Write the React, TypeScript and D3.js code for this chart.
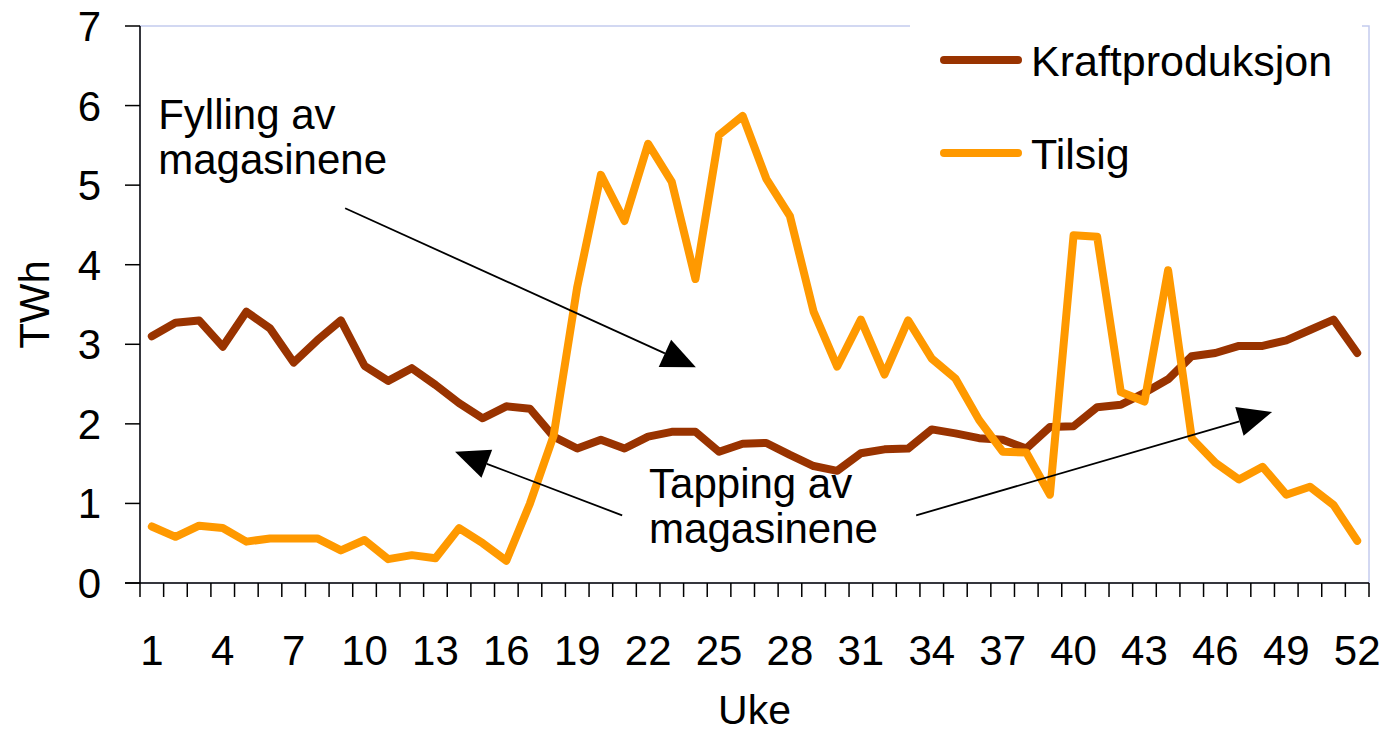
import React, { useEffect, useRef } from "react";
import * as d3 from "d3";

// Uke 1..52
const weeks: number[] = d3.range(1, 53);

// TWh per uke
const kraftproduksjon: number[] = [
  3.1, 3.27, 3.3, 2.97, 3.41, 3.2, 2.77, 3.05, 3.3, 2.73,
  2.54, 2.7, 2.49, 2.26, 2.07, 2.22, 2.19, 1.84, 1.69, 1.8,
  1.69, 1.84, 1.9, 1.9, 1.65, 1.75, 1.76, 1.61, 1.47, 1.41,
  1.63, 1.68, 1.69, 1.93, 1.88, 1.82, 1.8, 1.69, 1.96, 1.97,
  2.21, 2.24, 2.39, 2.56, 2.85, 2.89, 2.98, 2.98, 3.05, 3.18,
  3.31, 2.89,
];

const tilsig: number[] = [
  0.71, 0.58, 0.72, 0.69, 0.52, 0.56, 0.56, 0.56, 0.41, 0.54,
  0.3, 0.35, 0.31, 0.69, 0.5, 0.28, 1.0, 1.85, 3.72, 5.13,
  4.55, 5.52, 5.04, 3.82, 5.63, 5.87, 5.08, 4.61, 3.41, 2.72,
  3.31, 2.62, 3.3, 2.82, 2.57, 2.05, 1.65, 1.64, 1.11, 4.37,
  4.35, 2.4, 2.28, 3.93, 1.82, 1.51, 1.3, 1.46, 1.11, 1.21,
  0.98, 0.53,
];

const yTicks: number[] = [0, 1, 2, 3, 4, 5, 6, 7];

const seriesNames = ["Kraftproduksjon", "Tilsig"];
const seriesColors = ["#993300", "#ff9900"];

// annotation arrows in data space: [week, TWh] from -> to
const arrows: [number, number, number, number][] = [
  [9.18, 4.71, 24.02, 2.71],
  [20.9, 0.85, 13.83, 1.65],
  [33.34, 0.85, 48.4, 2.15],
];

// annotation text blocks: [week, TWh baseline of first line, lines]
const notes: [number, number, string[]][] = [
  [1.27, 5.7, ["Fylling av", "magasinene"]],
  [22.04, 1.07, ["Tapping av", "magasinene"]],
];

const W = 1386;
const H = 734;
const FONT = "'Liberation Sans', Arial, sans-serif";

const App: React.FC = () => {
  const ref = useRef<SVGSVGElement | null>(null);

  useEffect(() => {
    if (!ref.current) return;
    const svg = d3.select(ref.current);
    svg.selectAll("*").remove();

    const left = 140;
    const right = 1369;
    const top = 26;
    const bottom = 583;

    const x = d3
      .scaleBand<number>()
      .domain(weeks)
      .range([left, right])
      .padding(0);
    const cx = (w: number) => x(w)! + x.bandwidth() / 2;
    // continuous week position for annotations
    const xw = (w: number) => left + (w - 0.5) * x.bandwidth();
    const y = d3.scaleLinear().domain([0, 7]).range([bottom, top]);

    svg.style("font-family", FONT);

    // faint plot area border
    svg
      .append("rect")
      .attr("x", left)
      .attr("y", top)
      .attr("width", right - left)
      .attr("height", bottom - top)
      .attr("fill", "none")
      .attr("stroke", "#c4cbee")
      .attr("stroke-width", 1.5);

    // legend box (white, covers border)
    svg
      .append("rect")
      .attr("x", 910)
      .attr("y", 20)
      .attr("width", 452)
      .attr("height", 180)
      .attr("fill", "#fff");

    // axes
    svg
      .append("line")
      .attr("x1", left)
      .attr("x2", left)
      .attr("y1", top)
      .attr("y2", bottom)
      .attr("stroke", "#000")
      .attr("stroke-width", 1.5);
    svg
      .append("line")
      .attr("x1", left - 15)
      .attr("x2", right)
      .attr("y1", bottom)
      .attr("y2", bottom)
      .attr("stroke", "#000")
      .attr("stroke-width", 1.5);

    const yAxis = svg.append("g");
    yAxis
      .selectAll("line")
      .data(yTicks)
      .enter()
      .append("line")
      .attr("x1", left - 15)
      .attr("x2", left)
      .attr("y1", (d) => y(d))
      .attr("y2", (d) => y(d))
      .attr("stroke", "#000")
      .attr("stroke-width", 1.5);
    yAxis
      .selectAll("text")
      .data(yTicks)
      .enter()
      .append("text")
      .attr("x", 101)
      .attr("y", (d) => y(d) + 15)
      .attr("text-anchor", "end")
      .style("font-size", "42px")
      .text((d) => d);

    // x ticks at band edges
    const edges = weeks.map((w) => x(w)!).concat([right]);
    svg
      .append("g")
      .selectAll("line")
      .data(edges)
      .enter()
      .append("line")
      .attr("x1", (d) => d)
      .attr("x2", (d) => d)
      .attr("y1", bottom)
      .attr("y2", bottom + 14)
      .attr("stroke", "#000")
      .attr("stroke-width", 1.5);

    svg
      .append("g")
      .selectAll("text")
      .data(weeks.filter((w) => (w - 1) % 3 === 0))
      .enter()
      .append("text")
      .attr("x", (d) => cx(d))
      .attr("y", 665)
      .attr("text-anchor", "middle")
      .style("font-size", "42px")
      .text((d) => d);

    // axis titles
    svg
      .append("text")
      .attr("x", (left + right) / 2)
      .attr("y", 724)
      .attr("text-anchor", "middle")
      .style("font-size", "41px")
      .text("Uke");
    svg
      .append("text")
      .attr("transform", `translate(49,${(top + bottom) / 2}) rotate(-90)`)
      .attr("text-anchor", "middle")
      .style("font-size", "42px")
      .text("TWh");

    // series lines
    const line = d3
      .line<number>()
      .x((_, i) => cx(weeks[i]))
      .y((d) => y(d))
      .curve(d3.curveLinear);

    [kraftproduksjon, tilsig].forEach((s, i) => {
      svg
        .append("path")
        .attr("d", line(s)!)
        .attr("fill", "none")
        .attr("stroke", seriesColors[i])
        .attr("stroke-width", 8)
        .attr("stroke-linejoin", "round")
        .attr("stroke-linecap", "round");
    });

    // annotation arrows
    const ag = svg.append("g");
    arrows.forEach(([w0, v0, w1, v1]) => {
      const x0 = xw(w0);
      const y0 = y(v0);
      const x1 = xw(w1);
      const y1 = y(v1);
      const a = Math.atan2(y1 - y0, x1 - x0);
      const len = 34;
      const hw = 15;
      const bx = x1 - len * Math.cos(a);
      const by = y1 - len * Math.sin(a);
      ag.append("line")
        .attr("x1", x0)
        .attr("y1", y0)
        .attr("x2", bx)
        .attr("y2", by)
        .attr("stroke", "#000")
        .attr("stroke-width", 1.8);
      const pts = [
        [x1, y1],
        [bx + hw * Math.sin(a), by - hw * Math.cos(a)],
        [bx - hw * Math.sin(a), by + hw * Math.cos(a)],
      ];
      ag.append("polygon")
        .attr("points", pts.map((p) => p.join(",")).join(" "))
        .attr("fill", "#000");
    });

    // annotation text, one text element per block
    notes.forEach(([w, v, lines]) => {
      const t = svg
        .append("text")
        .attr("x", xw(w))
        .attr("y", y(v))
        .style("font-size", "42px");
      lines.forEach((s, i) => {
        t.append("tspan")
          .attr("x", xw(w))
          .attr("dy", i === 0 ? 0 : 45)
          .text(s);
      });
    });

    // legend
    const lg = svg.append("g");
    seriesNames.forEach((name, i) => {
      const ly = 60 + i * 93;
      lg.append("line")
        .attr("x1", 944)
        .attr("x2", 1018)
        .attr("y1", ly)
        .attr("y2", ly)
        .attr("stroke", seriesColors[i])
        .attr("stroke-width", 8)
        .attr("stroke-linecap", "round");
      lg.append("text")
        .attr("x", 1031)
        .attr("y", ly + 16)
        .style("font-size", "43px")
        .text(name);
    });
  }, []);

  return (
    <svg
      ref={ref}
      width={W}
      height={H}
      style={{ position: "absolute", left: 0, top: 0, background: "#fff" }}
    />
  );
};

export default App;
